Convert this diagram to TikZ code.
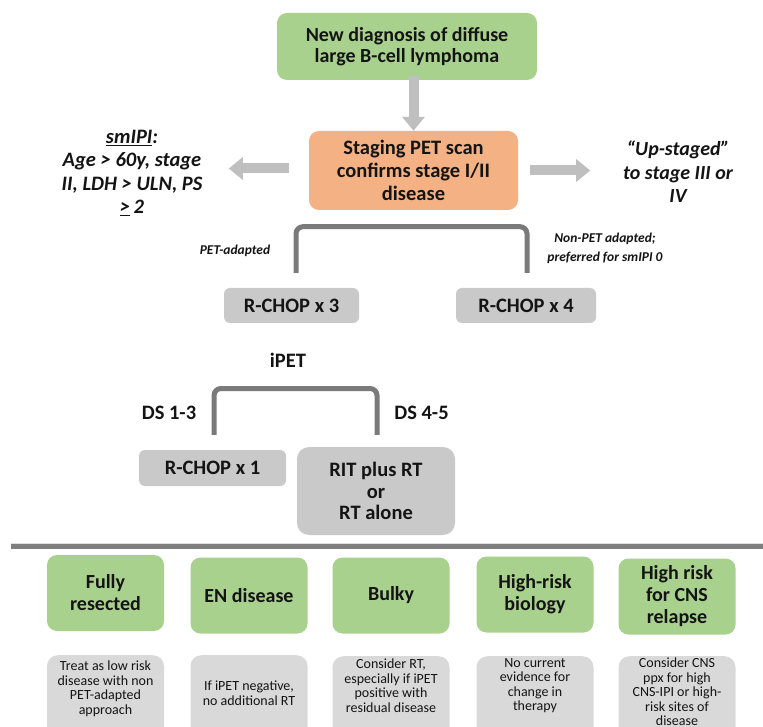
\documentclass[tikz,border=0pt]{standalone}
\usepackage{fontspec}
\setmainfont{Carlito}
\usetikzlibrary{arrows.meta,calc}
\definecolor{gboxc}{HTML}{A9D18E}
\definecolor{oboxc}{HTML}{F4B183}
\definecolor{rboxc}{HTML}{C9C9C9}
\definecolor{lboxc}{HTML}{D9D9D9}
\definecolor{arrc}{HTML}{BFBFBF}
\definecolor{brkc}{HTML}{7A7A7A}
\definecolor{sepc}{HTML}{7F7F7F}
\definecolor{txtc}{HTML}{141414}
\tikzset{
  mainfont/.style={font=\bfseries\fontsize{20.5}{22}\selectfont},
  basebox/.style={align=center, inner sep=0pt, text=txtc, mainfont},
  greenbox/.style={basebox, fill=gboxc, rounded corners=10pt},
  orangebox/.style={basebox, fill=oboxc, rounded corners=10pt},
  chopbox/.style={basebox, fill=rboxc, rounded corners=6pt},
  notebox/.style={fill=lboxc, rounded corners=11pt, inner sep=0pt, minimum width=117pt, minimum height=90pt, anchor=north},
  notetext/.style={align=center, inner sep=0pt, text=txtc, font=\fontsize{14}{14.5}\selectfont},
  sidetext/.style={align=center, inner sep=0pt, text=txtc, font=\bfseries\itshape\fontsize{20.5}{23.5}\selectfont},
  smalllbl/.style={align=center, inner sep=0pt, text=txtc, font=\bfseries\itshape\fontsize{13.5}{19}\selectfont},
  plainlbl/.style={align=center, inner sep=0pt, text=txtc, mainfont},
  bigarrow/.style={draw=arrc, line width=10pt, -{Triangle[length=14pt,width=22pt]}},
  bracketline/.style={draw=brkc, line width=5pt, rounded corners=7pt},
  rowbox/.style={greenbox, minimum width=117pt, minimum height=76pt, font=\bfseries\fontsize{20}{22}\selectfont}
}
\begin{document}
\begin{tikzpicture}[x=1pt,y=-1pt]
\clip (0,0) rectangle (763,727);
\fill[white] (0,0) rectangle (763,727);
% top
\node[greenbox, minimum width=260pt, minimum height=67pt, font=\bfseries\fontsize{20}{21}\selectfont] (dx) at (407,46.5) {New diagnosis of diffuse\\large B-cell lymphoma};
\node[orangebox, minimum width=209pt, minimum height=79pt, font=\bfseries\fontsize{20.5}{23}\selectfont] (stage) at (413.5,170.5) {Staging PET scan\\confirms stage I/II\\disease};
\node[sidetext] (smipi) at (132,173) {\underline{smIPI}:\\Age > 60y, stage\\II, LDH > ULN, PS\\\underline{>}\,2};
\node[sidetext, font=\bfseries\itshape\fontsize{20}{23.5}\selectfont] (upst) at (678,172) {“Up-staged”\\to stage III or\\IV};
\draw[bigarrow] ([yshift=4pt]dx.south -| stage.north) -- (stage.north);
\draw[bigarrow] ([xshift=-20pt,yshift=2pt]stage.west) -- ([xshift=-80pt,yshift=2pt]stage.west);
\draw[bigarrow] ([xshift=12pt]stage.east) -- ([xshift=72pt]stage.east);
% first split
\node[smalllbl] (petad) at (235,251) {PET-adapted};
\node[smalllbl] (nonpet) at (605,248) {Non-PET adapted;\\preferred for smIPI 0};
\node[chopbox, minimum width=135pt, minimum height=35pt] (r3) at (291.5,305.5) {R-CHOP x 3};
\node[chopbox, minimum width=140pt, minimum height=35pt] (r4) at (526,305.5) {R-CHOP x 4};
\draw[bracketline] ($(r3.north)+(4.5,-15)$) |- ($(stage.south)+(0,16.5)$) -| ($(r4.north)+(1,-15)$);
% second split
\node[plainlbl] (ipet) at (288,360) {iPET};
\node[plainlbl] (ds13) at (169,413) {DS 1-3};
\node[plainlbl] (ds45) at (421.5,413) {DS 4-5};
\node[chopbox, minimum width=147pt, minimum height=36pt] (r1) at (212.5,468) {R-CHOP x 1};
\node[chopbox, minimum width=158pt, minimum height=88pt, rounded corners=12pt, font=\bfseries\fontsize{20.5}{21.5}\selectfont] (rit) at (376,491) {RIT plus RT\\or\\RT alone};
\draw[bracketline] ($(r1.north)+(1.5,-15)$) |- ($(ipet)+(5,28.5)$) -| ($(rit.north)+(1,-12)$);
% separator
\draw[sepc, line width=6pt] (11,546) -- (763,546);
\draw[white!75!sepc, line width=1pt] (11,543.5) -- (763,543.5);
% row of green boxes
\node[rowbox] (g1) at (105.5,593) {Fully\\resected};
\node[rowbox] (g2) at (249,595.5) {EN disease};
\node[rowbox] (g3) at (391,595.5) {Bulky};
\node[rowbox] (g4) at (535,594.5) {High-risk\\biology};
\node[rowbox] (g5) at (677,596.5) {High risk\\for CNS\\relapse};
% note boxes
\node[notebox] (n1) at (105.5,655) {};
\node[notebox] (n2) at (249,655) {};
\node[notebox] (n3) at (391,656) {};
\node[notebox] (n4) at (535,656) {};
\node[notebox] (n5) at (677,656) {};
\node[notetext] (t1) at (105.5,689) {Treat as low risk\\disease with non\\PET-adapted\\approach};
\node[notetext] (t2) at (249,693) {If iPET negative,\\no additional RT};
\node[notetext] (t3) at (391,685.5) {Consider RT,\\especially if iPET\\positive with\\residual disease};
\node[notetext] (t4) at (535,685.5) {No current\\evidence for\\change in\\therapy};
\node[notetext] (t5) at (677,692) {Consider CNS\\ppx for high\\CNS-IPI or high-\\risk sites of\\disease};
\end{tikzpicture}
\end{document}
